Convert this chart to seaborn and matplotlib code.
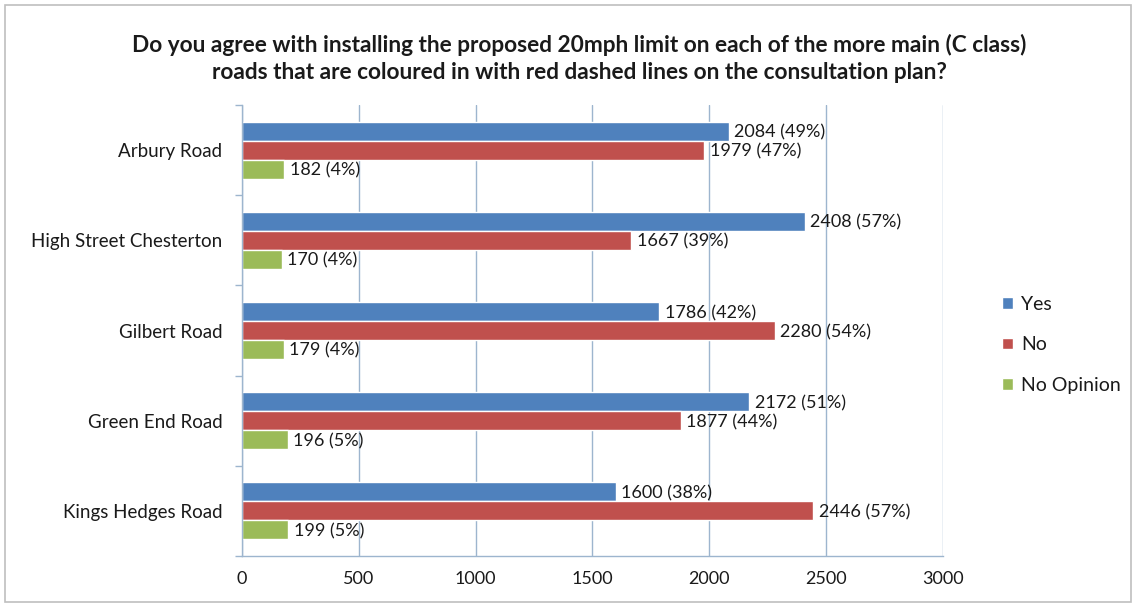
import matplotlib
matplotlib.use("Agg")
import matplotlib.pyplot as plt
import seaborn as sns
import pandas as pd
from matplotlib.ticker import FixedLocator

roads = ["Arbury Road", "High Street Chesterton", "Gilbert Road",
         "Green End Road", "Kings Hedges Road"]
series = ["Yes", "No", "No Opinion"]
yes_counts = [2084, 2408, 1786, 2172, 1600]
no_counts = [1979, 1667, 2280, 1877, 2446]
noop_counts = [182, 170, 179, 196, 199]
yes_pct = [49, 57, 42, 51, 38]
no_pct = [47, 39, 54, 44, 57]
noop_pct = [4, 4, 4, 5, 5]
x_ticks = [0, 500, 1000, 1500, 2000, 2500, 3000]

colors = ["#4F81BD", "#C0504D", "#9BBB59"]
grid_col = "#9DB5CE"
text_col = "#1a1a1a"

rows = []
for s, counts, pcts in zip(series, [yes_counts, no_counts, noop_counts],
                           [yes_pct, no_pct, noop_pct]):
    for r, c, p in zip(roads, counts, pcts):
        rows.append({"road": r, "series": s, "count": c, "pct": p})
df = pd.DataFrame(rows)

sns.set_theme(style="white")
plt.rcParams["font.family"] = ["Lato", "DejaVu Sans"]

fig = plt.figure(figsize=(11.36, 6.04), dpi=100)
ax = fig.add_axes([0.213, 0.0795, 0.617, 0.7465])

sns.barplot(data=df, x="count", y="road", hue="series", order=roads,
            hue_order=series, palette=colors, orient="h", width=0.63,
            saturation=1, errorbar=None, ax=ax, legend=True)

# value labels next to each bar
for container, s in zip(ax.containers, series):
    sub = df[df["series"] == s].set_index("road").loc[roads]
    labels = [f"{c} ({p}%)" for c, p in zip(sub["count"], sub["pct"])]
    for bar, lab in zip(container, labels):
        ax.annotate(lab, (bar.get_width(), bar.get_y() + bar.get_height() / 2),
                    xytext=(4, -1), textcoords="offset points",
                    ha="left", va="center", fontsize=13, color=text_col)

ax.set_xlim(0, 3000)
ax.set_ylim(len(roads) - 0.5, -0.5)
ax.set_xticks(x_ticks)
ax.set_xticklabels([str(t) for t in x_ticks])
ax.xaxis.grid(True, color=grid_col, linewidth=1)
ax.yaxis.grid(False)
ax.set_axisbelow(True)
ax.set_xlabel("")
ax.set_ylabel("")

for side in ["top", "right"]:
    ax.spines[side].set_visible(False)
for side in ["left", "bottom"]:
    ax.spines[side].set_color(grid_col)
    ax.spines[side].set_linewidth(1)

ax.tick_params(axis="x", which="major", length=5, direction="inout",
               color=grid_col, labelsize=13, pad=8, labelcolor=text_col)
ax.tick_params(axis="y", which="major", length=0, labelsize=13.5,
               pad=14, labelcolor=text_col)
ax.yaxis.set_minor_locator(FixedLocator([i - 0.5 for i in range(len(roads) + 1)]))
ax.tick_params(axis="y", which="minor", length=5, color=grid_col, left=True)

leg = ax.legend(loc="center left", bbox_to_anchor=(0.867, 0.429),
                bbox_transform=fig.transFigure, frameon=False,
                fontsize=14, handlelength=0.55, handleheight=0.55,
                handletextpad=0.4, labelspacing=1.2)
for t in leg.get_texts():
    t.set_color(text_col)

fig.text(0.51, 0.903,
         "Do you agree with installing the proposed 20mph limit on each of the more main (C class)\n"
         "roads that are coloured in with red dashed lines on the consultation plan?",
         ha="center", va="center", fontsize=16.3, fontweight="bold",
         linespacing=1.38, color=text_col)

# outer chart frame
frame = plt.Rectangle((0.004, 0.004), 0.992, 0.988, transform=fig.transFigure,
                      fill=False, edgecolor="#BFBFBF", linewidth=1.2)
fig.add_artist(frame)

fig.savefig("out.png", dpi=100, facecolor="white")
